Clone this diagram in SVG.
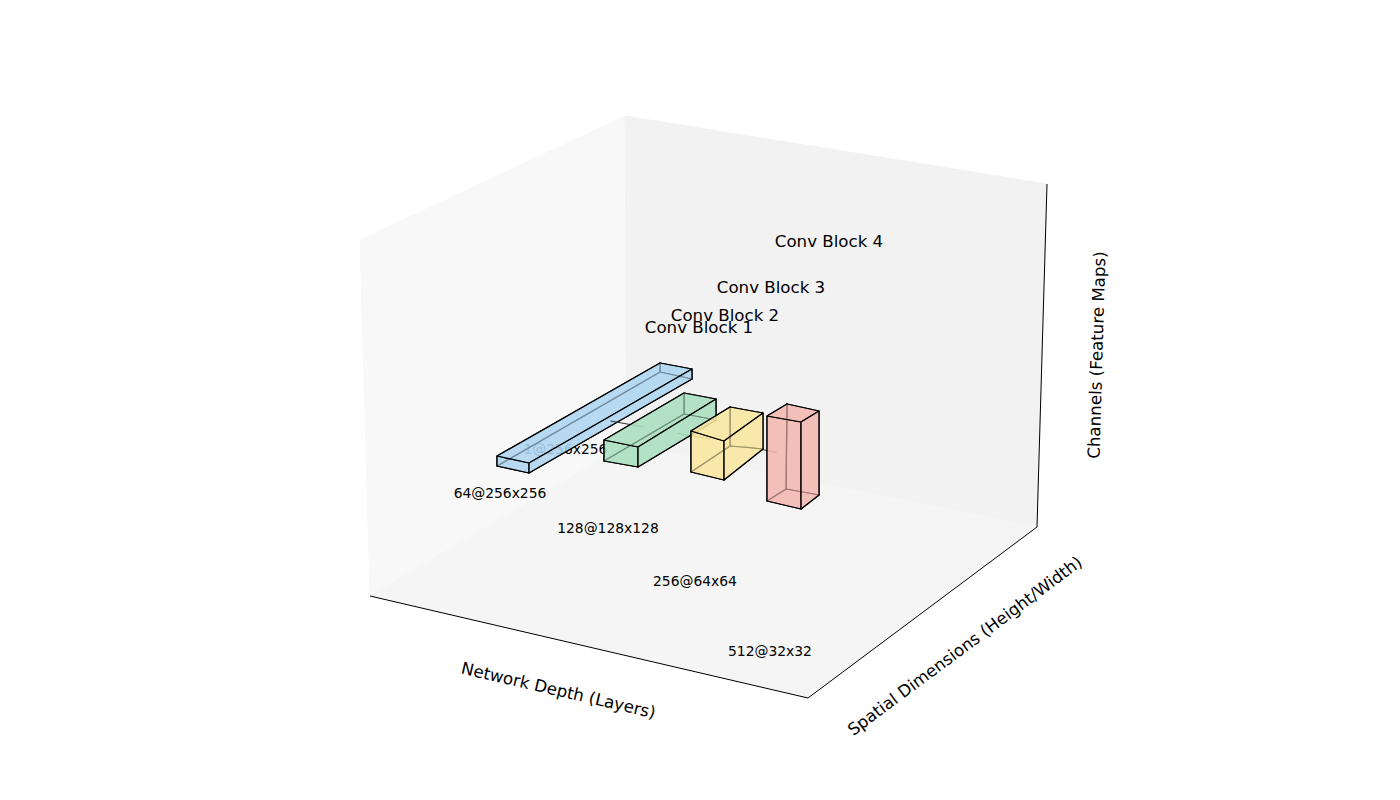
<svg xmlns="http://www.w3.org/2000/svg" width="1400" height="800" viewBox="0 0 1400 800">
<style>
text{font-family:"DejaVu Sans","Liberation Sans",sans-serif;fill:#000}
.lbl{font-size:16.67px}
.small{font-size:13.89px}
.f{stroke:#000;stroke-width:1.25;stroke-linejoin:round;fill-opacity:0.65}
.b1{fill:#AED6F1}.b2{fill:#A9DFBF}.b3{fill:#F9E79F}.b4{fill:#F5B7B1}
.conn{stroke:#333;stroke-width:1.2;fill:none}
</style>
<rect width="1400" height="800" fill="#fff"/>
<g id="panes">
<polygon points="360,240 625,116 627,444 370,596" fill="#f8f8f8" stroke="#f8f8f8"/>
<polygon points="625,116 1047,184 1037,527 627,444" fill="#f2f2f2" stroke="#f2f2f2"/>
<polygon points="370,596 627,444 1037,527 808,698" fill="#f5f5f5" stroke="#f5f5f5"/>
</g>
<g id="axes" stroke="#000" stroke-width="1" fill="none">
<line x1="370" y1="596" x2="808" y2="698"/>
<line x1="808" y1="698" x2="1037" y2="527"/>
<line x1="1037" y1="527" x2="1047" y2="184"/>
</g>
<g id="axis-labels" class="lbl">
<text class="lbl" x="558.5" y="690.5" text-anchor="middle" dominant-baseline="central" transform="rotate(13.1 558.5 690.5)">Network Depth (Layers)</text>
<text class="lbl" x="965" y="646" text-anchor="middle" dominant-baseline="central" transform="rotate(-36.7 965 646)">Spatial Dimensions (Height/Width)</text>
<text class="lbl" x="1097" y="355" text-anchor="middle" dominant-baseline="central" transform="rotate(-88.3 1097 355)">Channels (Feature Maps)</text>
</g>
<text id="input-label" class="small" x="565.5" y="454" text-anchor="middle">1@256x256</text>
<g id="block1">
<polygon class="f b1" points="660,363 692,369 692,379 660,372"/>
<polygon class="f b1" points="497,466 529,473 692,379 660,372"/>
<polygon class="f b1" points="497,456 660,363 660,372 497,466"/>
<polygon class="f b1" points="497,456 529,463 529,473 497,466"/>
<polygon class="f b1" points="497,456 529,463 692,369 660,363"/>
<polygon class="f b1" points="529,463 692,369 692,379 529,473"/>
</g>
<g id="connectors">
<line class="conn" x1="610.5" y1="421" x2="644" y2="427"/>
<line class="conn" x1="677" y1="433.25" x2="710.5" y2="439"/>
<line class="conn" x1="743.5" y1="445.75" x2="776.75" y2="452.5"/>
</g>
<g id="block2">
<polygon class="f b2" points="684,393 716,399 716,420 684,414"/>
<polygon class="f b2" points="604,461 638,467 716,420 684,414"/>
<polygon class="f b2" points="604,440 684,393 684,414 604,461"/>
<polygon class="f b2" points="604,440 638,447 638,467 604,461"/>
<polygon class="f b2" points="604,440 638,447 716,399 684,393"/>
<polygon class="f b2" points="638,447 716,399 716,420 638,467"/>
</g>
<g id="block3">
<polygon class="f b3" points="730,407 763,413 763,449 730,446"/>
<polygon class="f b3" points="691,472 724,480 763,449 730,446"/>
<polygon class="f b3" points="691,431 730,407 730,446 691,472"/>
<polygon class="f b3" points="691,431 724,441 724,480 691,472"/>
<polygon class="f b3" points="691,431 724,441 763,413 730,407"/>
<polygon class="f b3" points="724,441 763,413 763,449 724,480"/>
</g>
<g id="block4">
<polygon class="f b4" points="787,404 819,411 819,495 786,489"/>
<polygon class="f b4" points="767,501 801,509 819,495 786,489"/>
<polygon class="f b4" points="767,416 787,404 786,489 767,501"/>
<polygon class="f b4" points="767,416 801,422 801,509 767,501"/>
<polygon class="f b4" points="767,416 801,422 819,411 787,404"/>
<polygon class="f b4" points="801,422 819,411 819,495 801,509"/>
</g>
<g id="block-titles" class="lbl">
<text class="lbl" x="699" y="333" text-anchor="middle">Conv Block 1</text>
<text class="lbl" x="725" y="321" text-anchor="middle">Conv Block 2</text>
<text class="lbl" x="771" y="293" text-anchor="middle">Conv Block 3</text>
<text class="lbl" x="829" y="247" text-anchor="middle">Conv Block 4</text>
</g>
<g id="shape-labels" class="small">
<text class="small" x="500" y="498" text-anchor="middle">64@256x256</text>
<text class="small" x="608" y="533" text-anchor="middle">128@128x128</text>
<text class="small" x="695" y="586" text-anchor="middle">256@64x64</text>
<text class="small" x="770" y="656" text-anchor="middle">512@32x32</text>
</g>
</svg>
